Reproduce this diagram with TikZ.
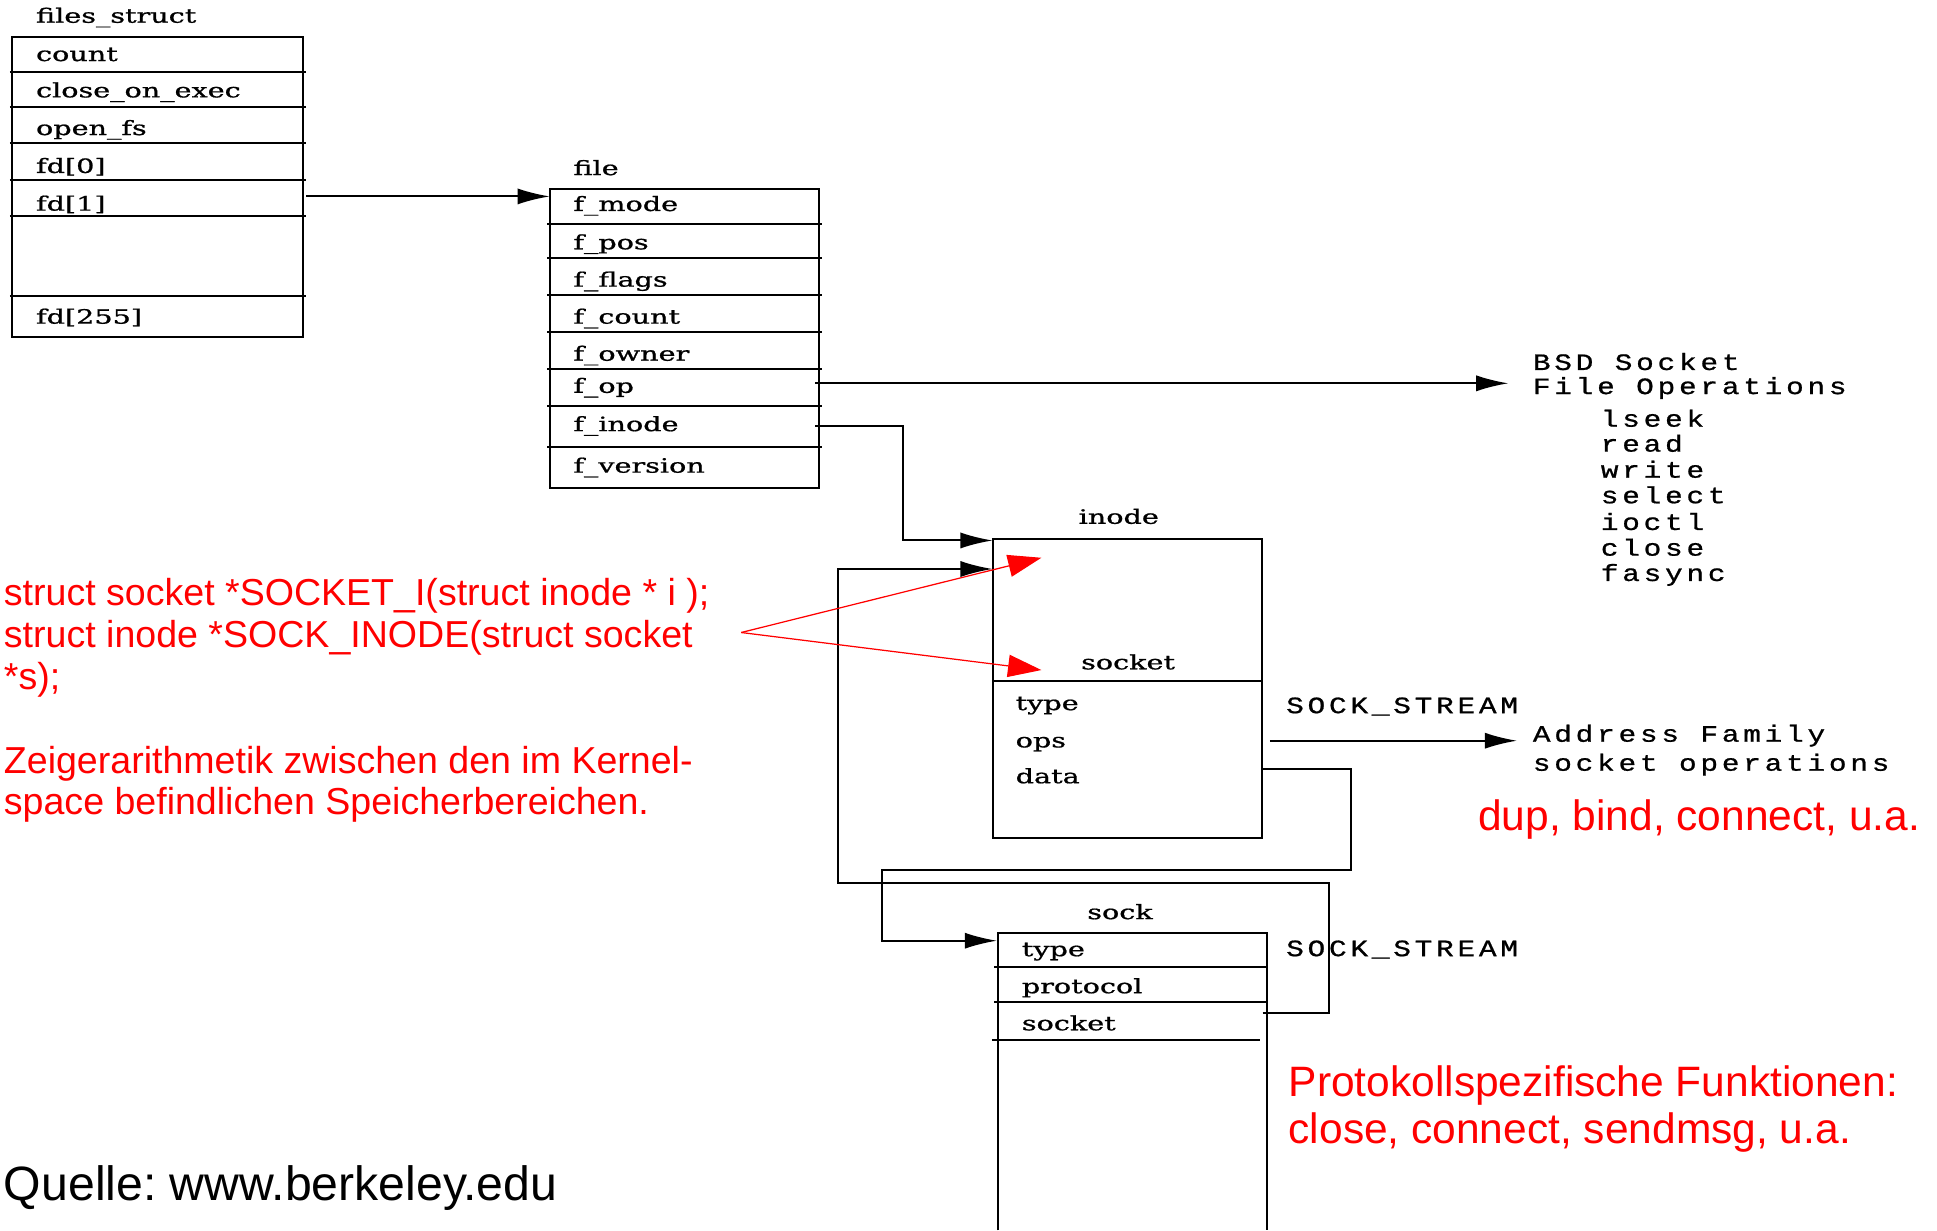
\documentclass[tikz,border=0pt]{standalone}
\usepackage{fontspec}
\usepackage{graphicx}
\usetikzlibrary{arrows.meta}
\setmainfont{Liberation Sans}
\newfontfamily\dvs[FakeBold=0.8]{DejaVu Serif}
\newfontfamily\monof[LetterSpace=13,FakeBold=0.8]{Liberation Mono}
\newcommand{\wtxt}[1]{\scalebox{1.45}[1]{#1}}
\newcommand{\mtxt}[1]{\scalebox{1.25}[1]{#1}}
\frenchspacing
\tikzset{
  conn/.style={line width=1.6pt},
  box/.style={draw, conn, inner sep=0pt, outer sep=0pt, anchor=north west},
  lbl/.style={anchor=base west, inner sep=0pt, font=\dvs\fontsize{16}{16}\selectfont},
  mlbl/.style={anchor=base west, inner sep=0pt, font=\monof\fontsize{19}{19}\selectfont},
  redtxt/.style={anchor=base west, inner sep=0pt, text=red, align=left},
  arr/.style={conn, -{Latex[length=26pt,width=13pt]}},
  redarr/.style={draw=red, line width=1pt, -{Triangle[length=27pt,width=18pt]}}
}
\begin{document}
\begin{tikzpicture}[x=1pt,y=-1pt]
\useasboundingbox (0,0) rectangle (1568,996);
\fill[white] (0,0) rectangle (1568,996);

% ---------- files_struct ----------
\node[lbl] (fstitle) at (29,18.4) {\wtxt{files\_struct}};
\node[box, minimum width=235pt, minimum height=243pt] (fsbox) at (10,30) {};
\foreach \y in {58,87,116,146,175,240} \draw[conn] (8,\y) -- (248,\y);
\node[lbl] (fscount) at (29,49.4) {\wtxt{count}};
\node[lbl] (fsclose) at (29,78.8) {\wtxt{close\_on\_exec}};
\node[lbl] (fsopen) at (29,109.3) {\wtxt{open\_fs}};
\node[lbl] (fd0) at (29,140) {\wtxt{fd[0]}};
\node[lbl] (fd1) at (29,170.5) {\wtxt{fd[1]}};
\node[lbl] (fd255) at (29,262) {\wtxt{fd[255]}};

% ---------- file ----------
\node[lbl] (filetitle) at (464,141.7) {\wtxt{file}};
\node[box, minimum width=218pt, minimum height=242pt] (filebox) at (445,153) {};
\foreach \y in {181,209,239,269,299,329,362} \draw[conn] (443,\y) -- (665,\y);
\node[lbl] (fmode) at (464,170.8) {\wtxt{f\_mode}};
\node[lbl] (fpos) at (464,201.8) {\wtxt{f\_pos}};
\node[lbl] (fflags) at (464,232) {\wtxt{f\_flags}};
\node[lbl] (fcount) at (464,262) {\wtxt{f\_count}};
\node[lbl] (fowner) at (464,292) {\wtxt{f\_owner}};
\node[lbl] (fop) at (464,318) {\wtxt{f\_op}};
\node[lbl] (finode) at (464,349) {\wtxt{f\_inode}};
\node[lbl] (fversion) at (464,382.6) {\wtxt{f\_version}};

% ---------- inode ----------
\node[lbl] (inodetitle) at (873,424) {\wtxt{inode}};
\node[box, minimum width=218pt, minimum height=242pt] (inodebox) at (803.5,436.3) {};
\draw[conn] (803.5,551.5) -- (1021.5,551.5);
\node[lbl] (isocket) at (875,541.8) {\wtxt{socket}};
\node[lbl] (itype) at (822,574.8) {\wtxt{type}};
\node[lbl] (iops) at (822,605) {\wtxt{ops}};
\node[lbl] (idata) at (822,634) {\wtxt{data}};

% ---------- sock ----------
\node[lbl] (socktitle) at (880,744) {\wtxt{sock}};
\draw[conn] (808,996) -- (808,755) -- (1026,755) -- (1026,996);
\coordinate (sockbox) at (808,755);
\draw[conn] (805,783) -- (1026,783);
\draw[conn] (805,811) -- (1026,811);
\draw[conn] (803,842) -- (1020,842);
\node[lbl] (stype) at (827,774) {\wtxt{type}};
\node[lbl] (sproto) at (827,804) {\wtxt{protocol}};
\node[lbl] (ssocket) at (827,834) {\wtxt{socket}};

% ---------- right-hand mono labels ----------
\node[mlbl] (bsd1) at (1240.7,299.5) {\mtxt{BSD Socket}};
\node[mlbl] (bsd2) at (1240.7,319) {\mtxt{File Operations}};
\node[mlbl] (op1) at (1295.7,345.4) {\mtxt{lseek}};
\node[mlbl] (op2) at (1295.7,365.6) {\mtxt{read}};
\node[mlbl] (op3) at (1295.7,386.7) {\mtxt{write}};
\node[mlbl] (op4) at (1295.7,407.4) {\mtxt{select}};
\node[mlbl] (op5) at (1295.7,429) {\mtxt{ioctl}};
\node[mlbl] (op6) at (1295.7,449.8) {\mtxt{close}};
\node[mlbl] (op7) at (1295.7,470.3) {\mtxt{fasync}};
\node[mlbl] (ss1) at (1041,577.3) {\mtxt{SOCK\_STREAM}};
\node[mlbl] (ss2) at (1041,774) {\mtxt{SOCK\_STREAM}};
\node[mlbl] (af1) at (1240.7,600.4) {\mtxt{Address Family}};
\node[mlbl] (af2) at (1240.7,623.9) {\mtxt{socket operations}};

% ---------- connectors ----------
\coordinate (fd1out) at (248,159);
\draw[arr] (fd1out) -- (filebox.west |- fd1out);

\coordinate (fopout) at (660,310.3);
\coordinate (bsdin) at (1221,310.3);
\draw[arr] (fopout) -- (bsdin);

\coordinate (finodeout) at (660,345);
\coordinate (inodein) at (803.5,437.5);
\draw[arr] (finodeout) -- (731,345) -- (731,437.5) -- (inodein);

\coordinate (ssockout) at (1022,820);
\coordinate (inodein2) at (803.5,460.6);
\draw[arr] (ssockout) -- (1076,820) -- (1076,715) -- (678,715) -- (678,460.6) -- (inodein2);

\coordinate (idataout) at (1021.5,622.7);
\coordinate (stypein) at (807,761.5);
\draw[arr] (idataout) -- (1094,622.7) -- (1094,704) -- (714,704) -- (714,761.5) -- (stypein);

\coordinate (iopsout) at (1028,599.6);
\coordinate (afin) at (1228,599.6);
\draw[arr] (iopsout) -- (afin);

% ---------- red annotations ----------
\node[redtxt, font=\fontsize{30.4}{33.9}\selectfont] (rt1) at (3,490.3) {struct socket *SOCKET\_I(struct inode * i );};
\node[redtxt, font=\fontsize{30.4}{33.9}\selectfont] (rt2) at (3,524) {struct inode *SOCK\_INODE(struct socket};
\node[redtxt, font=\fontsize{30.4}{33.9}\selectfont] (rt3) at (3,558) {*s);};
\node[redtxt, font=\fontsize{30.4}{33.9}\selectfont] (rt4) at (3,626) {Zeigerarithmetik zwischen den im Kernel-};
\node[redtxt, font=\fontsize{30.4}{33.9}\selectfont] (rt5) at (3,659) {space befindlichen Speicherbereichen.};
\node[redtxt, font=\fontsize{34.4}{37.7}\selectfont] (dup) at (1196.4,672) {dup, bind, connect, u.a.};
\node[redtxt, font=\fontsize{34.4}{37.7}\selectfont] (proto1) at (1043,887.8) {Protokollspezifische Funktionen:};
\node[redtxt, font=\fontsize{34.4}{37.7}\selectfont] (proto2) at (1043,925.5) {close, connect, sendmsg, u.a.};
\node[anchor=base west, inner sep=0pt, font=\fontsize{39}{42}\selectfont] (quelle) at (3,971.4) {Quelle: www.berkeley.edu};

\coordinate (redsrc) at (600,512);
\coordinate (redtip1) at (843,451.5);
\coordinate (redtip2) at (843,542.4);
\draw[redarr] (redsrc) -- (redtip1);
\draw[redarr] (redsrc) -- (redtip2);
\end{tikzpicture}
\end{document}
